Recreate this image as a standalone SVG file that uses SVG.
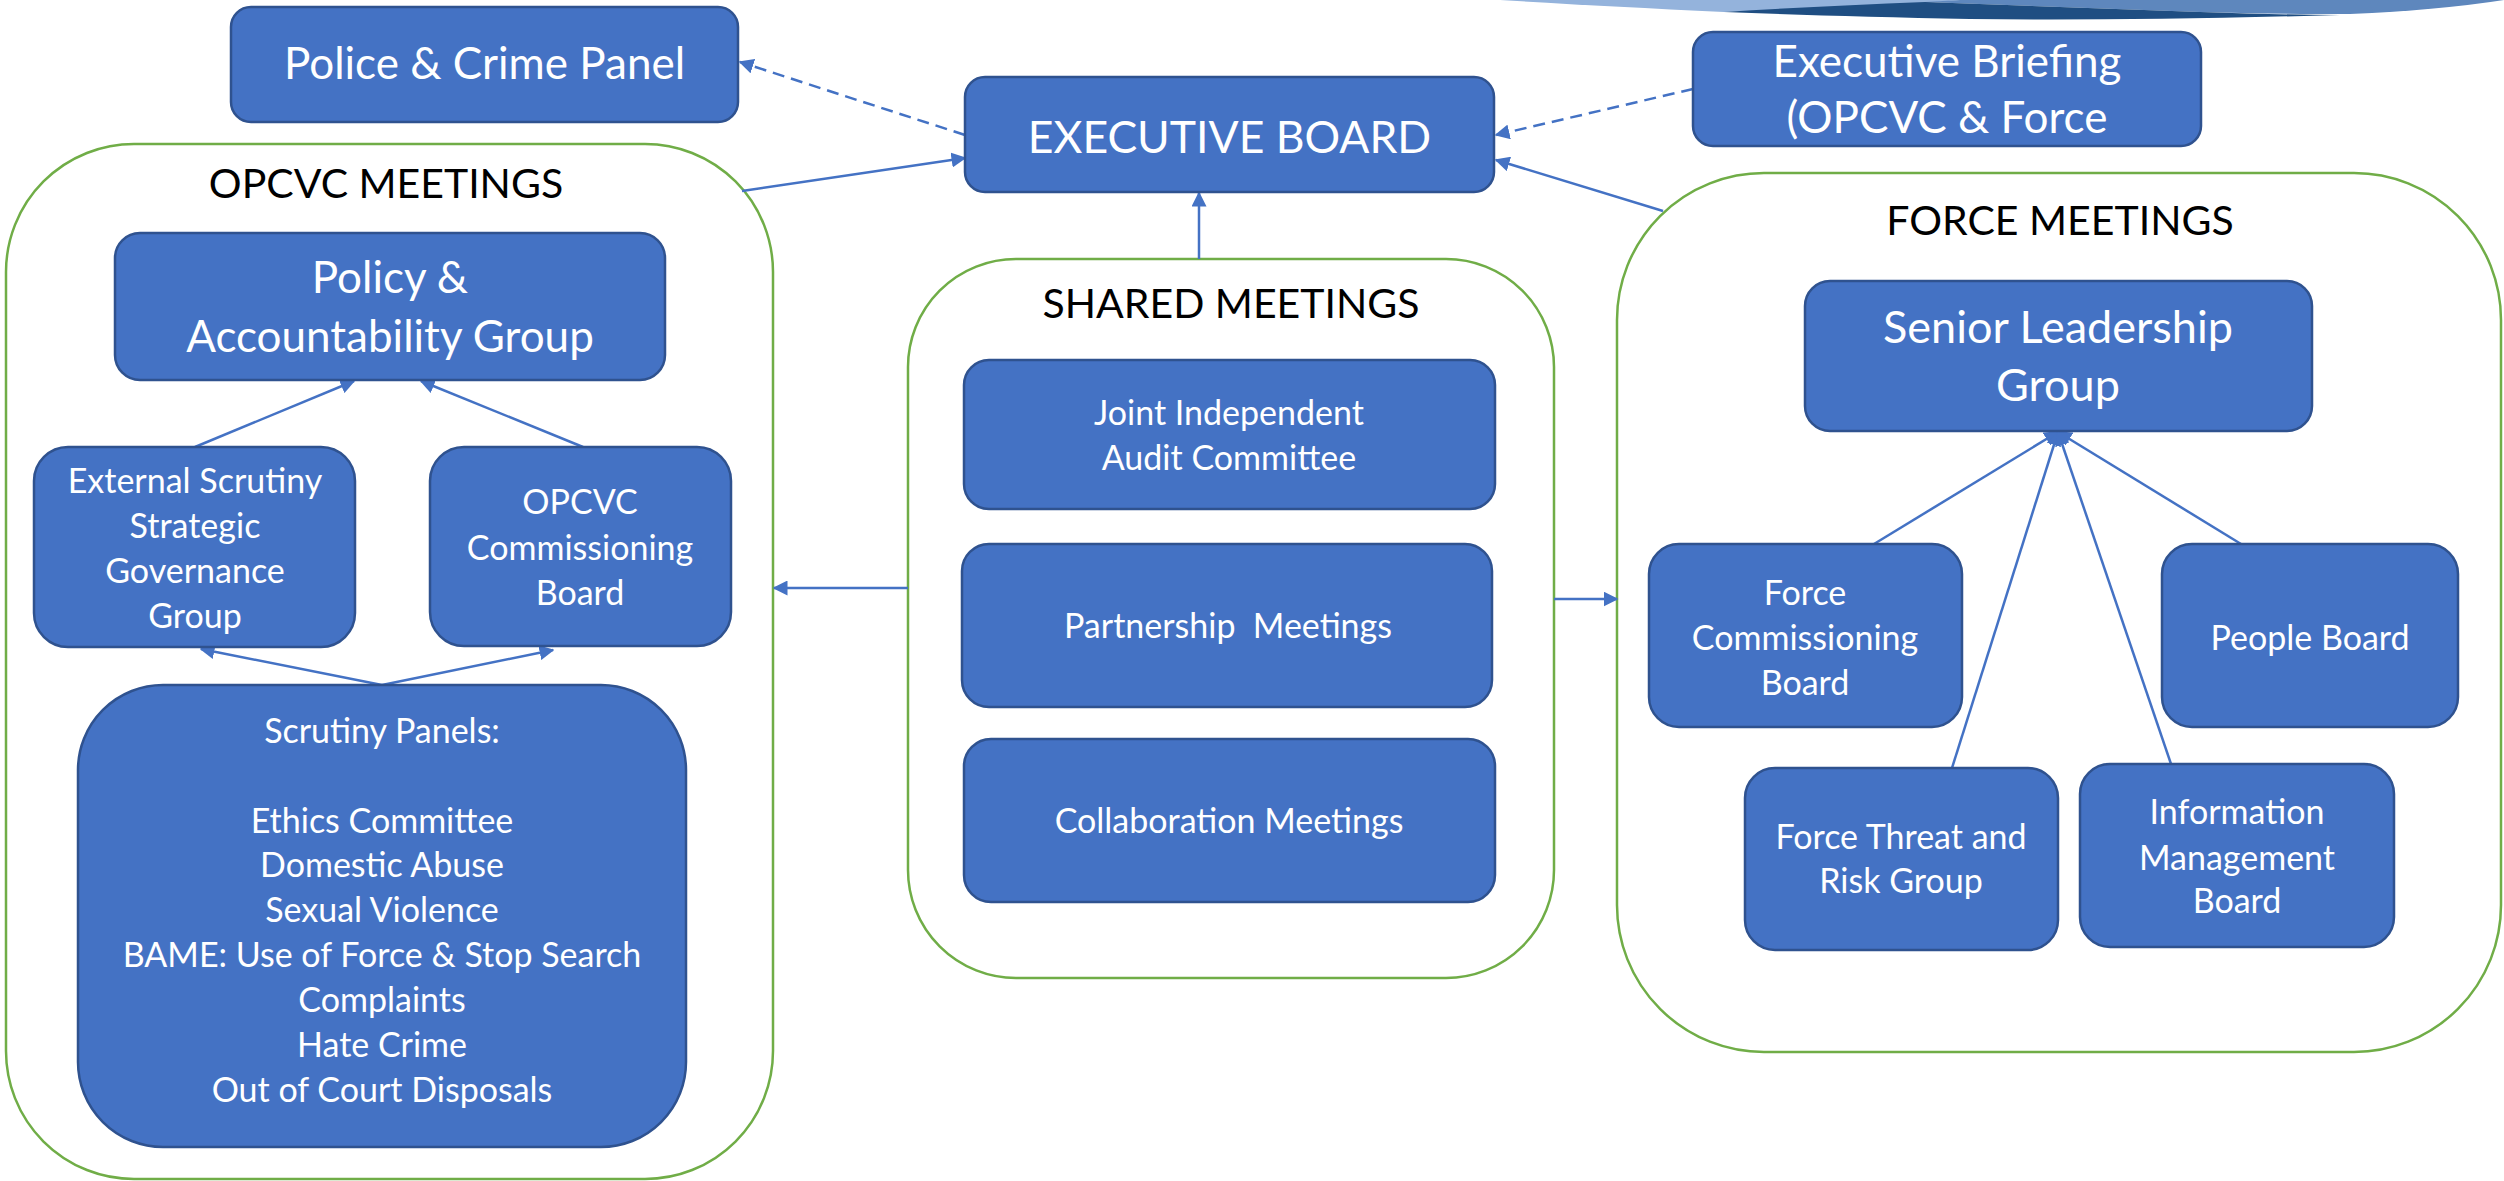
<svg xmlns="http://www.w3.org/2000/svg" width="2504" height="1181" viewBox="0 0 2504 1181">
<defs>
<style>
.box{fill:#4472C4;stroke:#2F528F;stroke-width:2.5}
.grp{fill:#FFFFFF;stroke:#70AD47;stroke-width:2.5}
.wt{fill:#FFFFFF;font-family:Lato,"Liberation Sans",sans-serif;text-anchor:middle}
.bt{fill:#000000;font-family:Lato,"Liberation Sans",sans-serif;text-anchor:middle}
.s{font-size:34px}
.l{font-size:44px}
.t{font-size:41px}
.x{font-size:44.5px}
.c{fill:none;stroke:#4472C4;stroke-width:2.5;marker-end:url(#ah)}
.d{stroke-dasharray:12 7}
</style>
<marker id="ah" viewBox="0 0 10 10" refX="9" refY="5" markerWidth="6" markerHeight="6" orient="auto">
<path d="M0,0 L10,5 L0,10 Z" fill="#4472C4"/>
</marker>
</defs>
<rect width="2504" height="1181" fill="#FFFFFF"/>
<g id="swoosh">
<path d="M1500 0 L1960 0 L1925 3 Q1800 10 1724 12 Q1600 6 1500 0 Z" fill="#94B3DC"/>
<path d="M1960 0 L2504 0 Q2440 10 2350 14 Q2260 14 2200 12 L1925 2 Z" fill="#5E87BD"/>
<path d="M1724 12 Q1820 6 1925 2 L2200 12 Q2290 15 2340 15 Q2120 21 1970 19 Q1830 16 1724 12 Z" fill="#1F4E82"/>
</g>
<g id="opcvc-meetings">
<rect class="grp" x="6" y="144" width="767" height="1035" rx="128"/>
<text class="bt t" x="386" y="198">OPCVC MEETINGS</text>
</g>
<g id="shared-meetings">
<rect class="grp" x="908" y="259" width="646" height="719" rx="108"/>
<text class="bt t" x="1231" y="318">SHARED MEETINGS</text>
</g>
<g id="force-meetings">
<rect class="grp" x="1617" y="173" width="884" height="879" rx="147"/>
<text class="bt t" x="2060" y="235">FORCE MEETINGS</text>
</g>
<g id="connectors">
<line class="c" x1="742" y1="191" x2="965" y2="158"/>
<line class="c d" x1="965" y1="135" x2="740" y2="62"/>
<line class="c d" x1="1693" y1="89" x2="1496" y2="135"/>
<line class="c" x1="1663" y1="211" x2="1496" y2="160"/>
<line class="c" x1="1199" y1="259" x2="1199" y2="193"/>
<line class="c" x1="908" y1="588" x2="774" y2="588"/>
<line class="c" x1="1554" y1="599" x2="1617" y2="599"/>
<line class="c" x1="195" y1="447" x2="354" y2="381"/>
<line class="c" x1="583" y1="447" x2="421" y2="381"/>
<line class="c" x1="382" y1="685" x2="201" y2="649"/>
<line class="c" x1="382" y1="685" x2="553" y2="650"/>
<line class="c" x1="1874" y1="544" x2="2058" y2="432"/>
<line class="c" x1="2241" y1="544" x2="2058" y2="432"/>
<line class="c" x1="1952" y1="768" x2="2058" y2="432"/>
<line class="c" x1="2171" y1="764" x2="2058" y2="432"/>
</g>
<g id="police-crime-panel">
<rect class="box" x="231" y="7" width="507" height="115" rx="20"/>
<text class="wt l" x="484.5" y="79">Police &amp; Crime Panel</text>
</g>
<g id="executive-board">
<rect class="box" x="965" y="77" width="529" height="115" rx="20"/>
<text class="wt x" x="1229.5" y="153">EXECUTIVE BOARD</text>
</g>
<g id="executive-briefing">
<rect class="box" x="1693" y="32" width="508" height="114" rx="20"/>
<text class="wt l" x="1947" y="77">Executive Briefing</text>
<text class="wt l" x="1947" y="133">(OPCVC &amp; Force</text>
</g>
<g id="policy-accountability">
<rect class="box" x="115" y="233" width="550" height="147" rx="25"/>
<text class="wt l" x="390" y="293">Policy &amp;</text>
<text class="wt l" x="390" y="352">Accountability Group</text>
</g>
<g id="external-scrutiny">
<rect class="box" x="34" y="447" width="321" height="200" rx="34"/>
<text class="wt s" x="195" y="493">External Scrutiny</text>
<text class="wt s" x="195" y="538">Strategic</text>
<text class="wt s" x="195" y="583">Governance</text>
<text class="wt s" x="195" y="628">Group</text>
</g>
<g id="opcvc-commissioning">
<rect class="box" x="430" y="447" width="301" height="199" rx="34"/>
<text class="wt s" x="580" y="514">OPCVC</text>
<text class="wt s" x="580" y="560">Commissioning</text>
<text class="wt s" x="580" y="605">Board</text>
</g>
<g id="scrutiny-panels">
<rect class="box" x="78" y="685" width="608" height="462" rx="85"/>
<text class="wt s" x="382" y="743">Scrutiny Panels:</text>
<text class="wt s" x="382" y="833">Ethics Committee</text>
<text class="wt s" x="382" y="877">Domestic Abuse</text>
<text class="wt s" x="382" y="922">Sexual Violence</text>
<text class="wt s" x="382" y="967">BAME: Use of Force &amp; Stop Search</text>
<text class="wt s" x="382" y="1012">Complaints</text>
<text class="wt s" x="382" y="1057">Hate Crime</text>
<text class="wt s" x="382" y="1102">Out of Court Disposals</text>
</g>
<g id="joint-audit">
<rect class="box" x="964" y="360" width="531" height="149" rx="25"/>
<text class="wt s" x="1229" y="425">Joint Independent</text>
<text class="wt s" x="1229" y="470">Audit Committee</text>
</g>
<g id="partnership">
<rect class="box" x="962" y="544" width="530" height="163" rx="27"/>
<text class="wt s" x="1228" y="638">Partnership&#160; Meetings</text>
</g>
<g id="collaboration">
<rect class="box" x="964" y="739" width="531" height="163" rx="27"/>
<text class="wt s" x="1229" y="833">Collaboration Meetings</text>
</g>
<g id="senior-leadership">
<rect class="box" x="1805" y="281" width="507" height="150" rx="25"/>
<text class="wt l" x="2058" y="343" style="font-size:45px">Senior Leadership</text>
<text class="wt l" x="2058" y="401" style="font-size:45px">Group</text>
</g>
<g id="force-commissioning">
<rect class="box" x="1649" y="544" width="313" height="183" rx="30"/>
<text class="wt s" x="1805" y="605">Force</text>
<text class="wt s" x="1805" y="650">Commissioning</text>
<text class="wt s" x="1805" y="695">Board</text>
</g>
<g id="people-board">
<rect class="box" x="2162" y="544" width="296" height="183" rx="30"/>
<text class="wt s" x="2310" y="650">People Board</text>
</g>
<g id="force-threat">
<rect class="box" x="1745" y="768" width="313" height="182" rx="30"/>
<text class="wt s" x="1901" y="849">Force Threat and</text>
<text class="wt s" x="1901" y="893">Risk Group</text>
</g>
<g id="information-management">
<rect class="box" x="2080" y="764" width="314" height="183" rx="30"/>
<text class="wt s" x="2237" y="824">Information</text>
<text class="wt s" x="2237" y="870">Management</text>
<text class="wt s" x="2237" y="913">Board</text>
</g>
</svg>
